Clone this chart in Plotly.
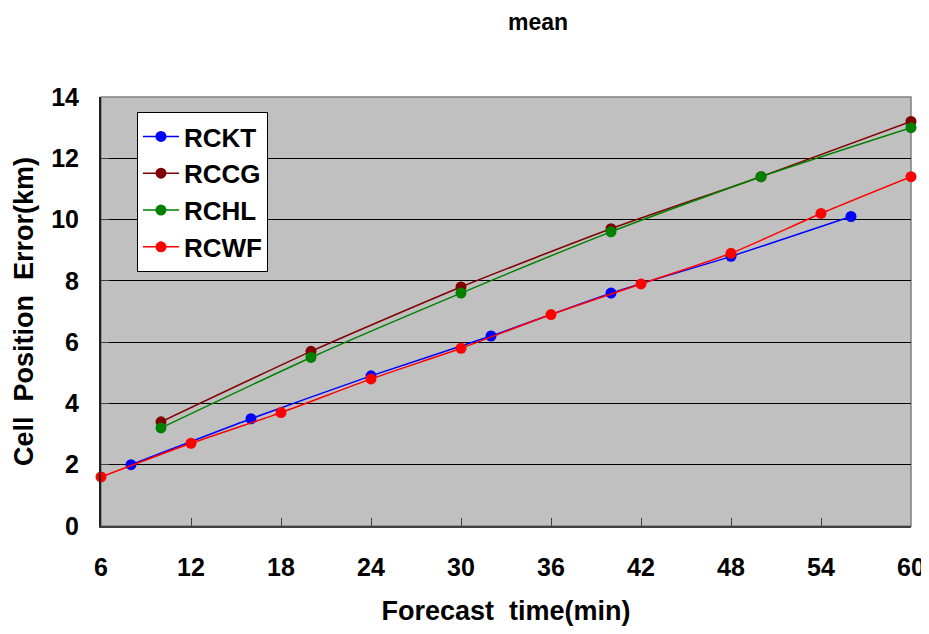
import plotly.graph_objects as go

# Data
rckt_x = [8, 16, 24, 32, 40, 48, 56]
rckt_y = [2.0, 3.5, 4.9, 6.2, 7.6, 8.8, 10.1]

rccg_x = [10, 20, 30, 40, 50, 60]
rccg_y = [3.4, 5.7, 7.8, 9.7, 11.4, 13.2]

rchl_x = [10, 20, 30, 40, 50, 60]
rchl_y = [3.2, 5.5, 7.6, 9.6, 11.4, 13.0]

rcwf_x = [6, 12, 18, 24, 30, 36, 42, 48, 54, 60]
rcwf_y = [1.6, 2.7, 3.7, 4.8, 5.8, 6.9, 7.9, 8.9, 10.2, 11.4]

x_ticks = [6, 12, 18, 24, 30, 36, 42, 48, 54, 60]
y_ticks = [0, 2, 4, 6, 8, 10, 12, 14]

series = [
    ("RCKT", rckt_x, rckt_y, "#0000FF"),
    ("RCCG", rccg_x, rccg_y, "#800000"),
    ("RCHL", rchl_x, rchl_y, "#008000"),
    ("RCWF", rcwf_x, rcwf_y, "#FF0000"),
]

FONT = "Liberation Sans, Arial, sans-serif"

fig = go.Figure()
for name, xs, ys, col in series:
    fig.add_trace(go.Scatter(
        x=xs, y=ys, name=name, mode="lines+markers",
        line=dict(color=col, width=1.5, shape="spline", smoothing=0.6),
        marker=dict(color=col, size=11), cliponaxis=False,
    ))

# The page body has an 8px margin, so the figure is sized/placed to compensate.
fig.update_layout(
    width=921, height=618,
    margin=dict(l=93, r=18, t=89, b=100),
    paper_bgcolor="white",
    plot_bgcolor="#C0C0C0",
    font=dict(family=FONT, size=20, color="black"),
    showlegend=True,
    legend=dict(
        x=0.0444, y=0.965, xanchor="left", yanchor="top",
        bgcolor="white", bordercolor="black", borderwidth=1,
        font=dict(family=FONT, size=26, color="black", weight="bold"),
        tracegroupgap=0, itemwidth=36,
    ),
    annotations=[dict(
        text="<b>mean</b>", x=0.54, y=1.175,
        xref="paper", yref="paper", xanchor="center", yanchor="middle",
        showarrow=False, font=dict(family=FONT, size=23, color="black"),
    )],
)

fig.update_xaxes(
    range=[6, 60], tickvals=x_ticks, ticktext=[str(v) for v in x_ticks],
    showgrid=False, zeroline=False, automargin=False,
    showline=True, linecolor="#404040", linewidth=2, mirror=False,
    ticks="inside", ticklen=8, tickcolor="#404040", tickwidth=1,
    tickfont=dict(family=FONT, size=25, color="black", weight="bold"),
    ticklabelstandoff=18,
    title=dict(text="<b>Forecast\u00a0 time(min)</b>", standoff=21,
               font=dict(family=FONT, size=27, color="black")),
)

fig.update_yaxes(
    range=[0, 14], tickvals=y_ticks, ticktext=[str(v) for v in y_ticks],
    showgrid=True, gridcolor="black", gridwidth=1, zeroline=False, automargin=False,
    showline=True, linecolor="#202020", linewidth=2, mirror=False,
    ticks="inside", ticklen=8, tickcolor="#404040", tickwidth=1,
    tickfont=dict(family=FONT, size=25, color="black", weight="bold"),
    ticklabelstandoff=15,
    title=dict(text="<b>Cell\u00a0 Position\u00a0 Error(km)</b>", standoff=10,
               font=dict(family=FONT, size=27, color="black")),
)

# right and top border (gray)
fig.add_shape(type="rect", xref="paper", yref="paper", x0=0, y0=0, x1=1, y1=1,
              line=dict(color="#808080", width=1.5), layer="below")

fig.write_html("out.html")
